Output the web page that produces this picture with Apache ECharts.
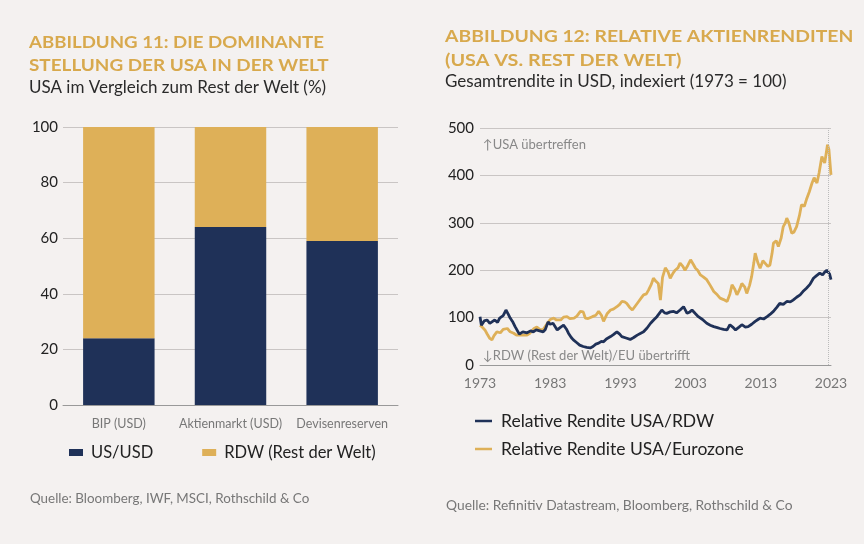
<!DOCTYPE html>
<html><head><meta charset="utf-8">
<script src="https://cdn.jsdelivr.net/npm/echarts@6/dist/echarts.min.js"></script>
<style>html,body{margin:0;padding:0;background:#f4f1f0}#c{width:864px;height:544px}</style>
</head><body><div id="c"></div>
<script>
// ---- Data: Abbildung 11 ----
const barCategories = ['BIP (USD)', 'Aktienmarkt (USD)', 'Devisenreserven'];
const usShare = [24, 64, 59];
const rdwShare = [76, 36, 41];
const barTicks = [0, 20, 40, 60, 80, 100];

// ---- Data: Abbildung 12 ([Jahr, Index]) ----
const usaVsRdw = [
 [1973.0,102],[1973.2,84],[1973.6,93],[1974.0,95],[1974.4,88],[1974.8,92],[1975.1,95],[1975.5,90],[1975.8,99],[1976.3,104],[1976.7,116],
 [1977.0,108],[1977.3,99],[1977.7,90],[1978.0,81],[1978.6,65],[1979.1,70],[1979.7,68],[1980.2,72],[1980.6,70],[1981.0,74],[1981.5,72],
 [1982.0,70],[1982.3,75],[1982.7,91],[1983.0,86],[1983.4,88],[1984.0,74],[1984.5,80],[1984.9,84],[1985.3,76],[1985.6,67],[1986.0,58],
 [1986.3,53],[1986.8,47],[1987.2,42],[1987.7,39],[1988.2,37],[1988.7,36],[1989.1,39],[1989.5,44],[1989.9,46],[1990.3,50],[1990.6,49],
 [1991.0,55],[1991.6,60],[1992.0,64],[1992.5,70],[1992.9,65],[1993.2,60],[1993.8,57],[1994.4,54],[1994.9,58],[1995.4,63],[1995.9,67],
 [1996.3,70],[1996.8,78],[1997.3,88],[1997.8,96],[1998.2,102],[1998.6,110],[1998.9,116],[1999.3,110],[1999.6,109],[2000.1,112],[2000.6,113],
 [2001.0,110],[2001.5,116],[2002.0,123],[2002.5,109],[2002.9,112],[2003.2,116],[2003.7,108],[2004.1,102],[2004.7,96],[2005.3,88],
 [2005.8,84],[2006.3,81],[2006.8,79],[2007.2,77],[2007.7,75],[2008.2,74],[2008.6,85],[2009.0,80],[2009.4,74],[2009.9,80],[2010.3,85],
 [2010.8,80],[2011.2,81],[2011.7,86],[2012.2,92],[2012.6,96],[2012.9,99],[2013.4,97],[2013.9,102],[2014.4,108],[2014.8,113],
 [2015.3,122],[2015.7,130],[2016.2,128],[2016.7,134],[2017.2,133],[2017.6,137],[2018.1,143],[2018.6,148],[2019.0,155],[2019.5,162],
 [2020.0,170],[2020.5,183],[2020.9,188],[2021.4,194],[2021.8,190],[2022.1,196],[2022.4,200],[2022.6,197],[2022.8,192],[2023.0,180]
];
const usaVsEurozone = [
 [1973.0,84],[1973.3,80],[1973.7,74],[1974.0,66],[1974.4,56],[1974.7,53],[1975.0,62],[1975.4,70],[1975.9,68],[1976.3,75],[1976.9,77],
 [1977.3,70],[1977.8,67],[1978.2,63],[1978.8,63],[1979.2,63],[1979.7,63],[1980.1,67],[1980.7,77],[1981.1,80],[1981.6,74],[1982.0,75],
 [1982.6,88],[1983.0,96],[1983.5,99],[1983.9,95],[1984.5,95],[1984.9,101],[1985.4,102],[1985.8,98],[1986.4,99],[1986.8,103],
 [1987.3,113],[1987.7,112],[1988.0,99],[1988.4,98],[1989.0,102],[1989.5,105],[1989.9,113],[1990.3,105],[1990.6,92],[1991.1,108],
 [1991.6,116],[1992.0,118],[1992.5,123],[1992.9,128],[1993.2,134],[1993.6,133],[1993.9,130],[1994.3,122],[1994.7,116],[1995.1,124],
 [1995.6,134],[1996.0,142],[1996.3,148],[1996.7,150],[1997.0,158],[1997.4,170],[1997.7,183],[1998.1,176],[1998.4,172],[1998.7,137],
 [1999.0,185],[1999.4,205],[1999.8,196],[2000.1,183],[2000.5,194],[2000.8,200],[2001.2,205],[2001.5,215],[2001.9,208],[2002.2,200],
 [2002.6,210],[2003.0,222],[2003.4,212],[2003.7,204],[2004.0,200],[2004.4,190],[2004.8,186],[2005.3,180],[2005.8,168],[2006.3,155],
 [2006.8,148],[2007.2,141],[2007.7,138],[2008.2,134],[2008.6,150],[2008.9,169],[2009.3,160],[2009.6,148],[2010.0,160],[2010.3,172],
 [2010.7,165],[2011.0,151],[2011.4,168],[2011.7,187],[2012.0,215],[2012.2,236],[2012.6,215],[2012.9,204],[2013.3,220],[2013.6,215],
 [2014.0,208],[2014.3,211],[2014.6,235],[2014.8,257],[2015.2,262],[2015.5,250],[2015.9,268],[2016.2,292],[2016.5,300],[2016.7,310],
 [2017.0,300],[2017.4,278],[2017.7,280],[2018.1,292],[2018.5,315],[2018.8,338],[2019.2,335],[2019.5,349],[2019.9,365],[2020.3,384],
 [2020.6,395],[2021.0,384],[2021.3,405],[2021.7,440],[2022.1,426],[2022.3,445],[2022.5,465],[2022.7,455],[2023.0,401]
];
const lineTicks = [0, 100, 200, 300, 400, 500];
const yearTicks = [1973, 1983, 1993, 2003, 2013, 2023];

const NAVY = '#1f3158', GOLD = '#deb058', TGOLD = '#d8a94d';
const FONT = 'Lato, "Source Sans Pro", sans-serif';

const chart = echarts.init(document.getElementById('c'), null, {renderer: 'canvas'});
function txt(x, y, text, size, fill, weight, sx) {
  return {type: 'text', x: x, y: y, scaleX: sx || 1, silent: true,
    style: {text: text, fill: fill, font: (weight || 'normal') + ' ' + size + 'px ' + FONT, verticalAlign: 'middle', align: 'left'}};
}
chart.setOption({
  backgroundColor: '#f4f1f0',
  animation: false,
  textStyle: {fontFamily: FONT},
  graphic: [
    txt(29, 42, 'ABBILDUNG 11: DIE DOMINANTE', 17.5, TGOLD, 'bold', 1.065),
    txt(29, 65, 'STELLUNG DER USA IN DER WELT', 17.5, TGOLD, 'bold', 1.08),
    txt(29, 88, 'USA im Vergleich zum Rest der Welt (%)', 17, '#2a2a2a'),
    txt(30, 499, 'Quelle: Bloomberg, IWF, MSCI, Rothschild & Co', 13.4, '#777'),
    txt(445, 36, 'ABBILDUNG 12: RELATIVE AKTIENRENDITEN', 17.5, TGOLD, 'bold', 1.105),
    txt(445, 60, '(USA VS. REST DER WELT)', 17.5, TGOLD, 'bold', 1.13),
    txt(445, 82, 'Gesamtrendite in USD, indexiert (1973 = 100)', 17, '#2a2a2a'),
    txt(483, 145, '↑USA übertreffen', 13, '#888'),
    txt(483, 356, '↓RDW (Rest der Welt)/EU übertrifft', 13, '#888'),
    txt(446, 506, 'Quelle: Refinitiv Datastream, Bloomberg, Rothschild & Co', 13.8, '#777')
  ],
  legend: [
    {left: 64, top: 439, itemWidth: 14, itemHeight: 7, itemGap: 49, icon: 'rect',
     data: ['US/USD', 'RDW (Rest der Welt)'],
     textStyle: {fontSize: 16.5, color: '#222', fontFamily: FONT, padding: [0, 0, 0, 3]}},
    {left: 470, top: 407, orient: 'vertical', itemWidth: 17, itemHeight: 2.5, itemGap: 10, icon: 'rect',
     data: ['Relative Rendite USA/RDW', 'Relative Rendite USA/Eurozone'],
     textStyle: {fontSize: 17.5, color: '#222', fontFamily: FONT, padding: [0, 0, 0, 4]}}
  ],
  grid: [
    {left: 63, right: 466, top: 127, bottom: 139},
    {left: 480, right: 33, top: 128, bottom: 179}
  ],
  xAxis: [
    {type: 'category', gridIndex: 0, data: barCategories,
     axisLine: {lineStyle: {color: '#999'}}, axisTick: {show: false},
     axisLabel: {color: '#777', fontSize: 12.5, margin: 12, interval: 0, hideOverlap: false}},
    {type: 'value', gridIndex: 1, min: 1973, max: 2023, interval: 10,
     axisLine: {show: true, lineStyle: {color: '#999'}}, axisTick: {show: false}, splitLine: {show: false},
     axisLabel: {color: '#777', fontSize: 14, margin: 11, formatter: v => yearTicks.includes(v) ? String(v) : ''}}
  ],
  yAxis: [
    {type: 'value', gridIndex: 0, min: barTicks[0], max: barTicks[barTicks.length - 1], interval: 20,
     axisLine: {show: false}, axisTick: {show: false},
     splitLine: {lineStyle: {color: '#c9c5c4'}},
     axisLabel: {color: '#222', fontSize: 15, margin: 5}},
    {type: 'value', gridIndex: 1, min: lineTicks[0], max: lineTicks[lineTicks.length - 1], interval: 100,
     axisLine: {show: false}, axisTick: {show: false},
     splitLine: {lineStyle: {color: '#c9c5c4'}},
     axisLabel: {color: '#222', fontSize: 15, margin: 6}}
  ],
  series: [
    {name: 'US/USD', type: 'bar', stack: 'a', xAxisIndex: 0, yAxisIndex: 0, data: usShare, barWidth: '64%',
     itemStyle: {color: NAVY}},
    {name: 'RDW (Rest der Welt)', type: 'bar', stack: 'a', xAxisIndex: 0, yAxisIndex: 0, data: rdwShare,
     itemStyle: {color: GOLD}},
    {name: 'Relative Rendite USA/Eurozone', type: 'line', xAxisIndex: 1, yAxisIndex: 1, data: usaVsEurozone,
     symbol: 'none', lineStyle: {color: GOLD, width: 2.8}, itemStyle: {color: GOLD}, z: 2,
     markLine: {silent: true, symbol: 'none', label: {show: false},
       lineStyle: {color: '#bbb', type: 'dotted', width: 1}, data: [{xAxis: 2022.6}]}},
    {name: 'Relative Rendite USA/RDW', type: 'line', xAxisIndex: 1, yAxisIndex: 1, data: usaVsRdw,
     symbol: 'none', lineStyle: {color: NAVY, width: 2.8}, itemStyle: {color: NAVY}, z: 3}
  ]
});
</script></body></html>
